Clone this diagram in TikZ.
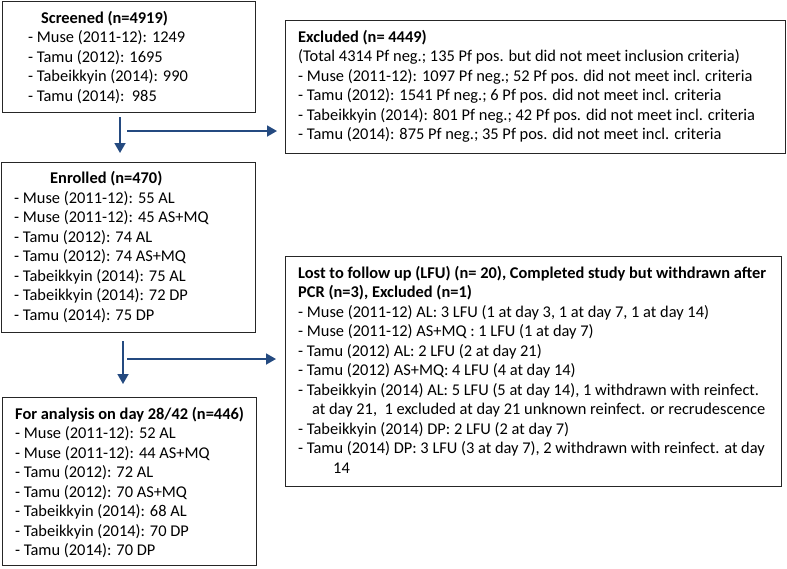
\documentclass[tikz,border=0pt]{standalone}
\usepackage{fontspec}
\setmainfont{Carlito}
\usetikzlibrary{arrows.meta}
\definecolor{arrblue}{RGB}{36,74,128}
\begin{document}
\begin{tikzpicture}[x=1pt,y=-1pt,
  box/.style={draw=black!85, line width=0.9pt, anchor=north west, inner sep=0pt, outer sep=0pt},
  txt/.style={anchor=base west, inner sep=0pt, font=\fontsize{16.4}{19.5}\selectfont},
  ttl/.style={txt, font=\fontsize{16.4}{19.5}\selectfont\bfseries},
  arr/.style={draw=arrblue, line width=1.8pt, -{Triangle[length=10pt,width=11pt]}}]
\useasboundingbox (0,0) rectangle (787,568);

% boxes
\node[box, minimum width=253pt, minimum height=111pt] (scr) at (2,1) {};
\node[box, minimum width=500pt, minimum height=133pt] (exc) at (285,20) {};
\node[box, minimum width=254pt, minimum height=170pt] (enr) at (1,162) {};
\node[box, minimum width=496pt, minimum height=230pt] (lost) at (285,256) {};
\node[box, minimum width=254pt, minimum height=168pt] (ana) at (2,397) {};

% Screened
\node[ttl] (scr-t) at (41,23) {Screened (n=4919)};
\foreach \t [count=\i from 0] in {{- Muse (2011-12): 1249},{- Tamu (2012): 1695},{- Tabeikkyin (2014): 990},{- Tamu (2014):~~985}}
  \node[txt] (scr-\i) at (28,{42.5+19.5*\i}) {\t};

% Excluded
\node[ttl] (exc-t) at (298,42) {Excluded (n= 4449)};
\foreach \t [count=\i from 0] in {{(Total 4314 Pf neg.; 135 Pf pos. but did not meet inclusion criteria)},{- Muse (2011-12): 1097 Pf neg.; 52 Pf pos. did not meet incl. criteria},{- Tamu (2012): 1541 Pf neg.; 6 Pf pos. did not meet incl. criteria},{- Tabeikkyin (2014): 801 Pf neg.; 42 Pf pos. did not meet incl. criteria},{- Tamu (2014): 875 Pf neg.; 35 Pf pos. did not meet incl. criteria}}
  \node[txt] (exc-\i) at (298,{61.5+19.5*\i}) {\t};

% Enrolled
\node[ttl] (enr-t) at (50,183.5) {Enrolled (n=470)};
\foreach \t [count=\i from 0] in {{- Muse (2011-12): 55 AL},{- Muse (2011-12): 45 AS+MQ},{- Tamu (2012): 74 AL},{- Tamu (2012): 74 AS+MQ},{- Tabeikkyin (2014): 75 AL},{- Tabeikkyin (2014): 72 DP},{- Tamu (2014): 75 DP}}
  \node[txt] (enr-\i) at (14,{203+19.5*\i}) {\t};

% Lost to follow up
\node[ttl] (lost-t1) at (298,278) {Lost to follow up (LFU) (n= 20), Completed study but withdrawn after};
\node[ttl] (lost-t2) at (298,297.5) {PCR (n=3), Excluded (n=1)};
\node[txt] (lost-0) at (298,317) {- Muse (2011-12) AL: 3 LFU (1 at day 3, 1 at day 7, 1 at day 14)};
\node[txt] (lost-1) at (298,336.5) {- Muse (2011-12) AS+MQ : 1 LFU (1 at day 7)};
\node[txt] (lost-2) at (298,356) {- Tamu (2012) AL: 2 LFU (2 at day 21)};
\node[txt] (lost-3) at (298,375.5) {- Tamu (2012) AS+MQ: 4 LFU (4 at day 14)};
\node[txt] (lost-4) at (298,395) {- Tabeikkyin (2014) AL: 5 LFU (5 at day 14), 1 withdrawn with reinfect.};
\node[txt] (lost-4b) at (312,414.5) {at day 21,~~1 excluded at day 21 unknown reinfect. or recrudescence};
\node[txt] (lost-5) at (298,434) {- Tabeikkyin (2014) DP: 2 LFU (2 at day 7)};
\node[txt] (lost-6) at (298,453.5) {- Tamu (2014) DP: 3 LFU (3 at day 7), 2 withdrawn with reinfect. at day};
\node[txt] (lost-6b) at (333,473) {14};

% For analysis
\node[ttl] (ana-t) at (15,419) {For analysis on day 28/42 (n=446)};
\foreach \t [count=\i from 0] in {{- Muse (2011-12): 52 AL},{- Muse (2011-12): 44 AS+MQ},{- Tamu (2012): 72 AL},{- Tamu (2012): 70 AS+MQ},{- Tabeikkyin (2014): 68 AL},{- Tabeikkyin (2014): 70 DP},{- Tamu (2014): 70 DP}}
  \node[txt] (ana-\i) at (15,{438.5+19.5*\i}) {\t};

% arrows
\coordinate (v1) at (120,117);
\coordinate (h1) at (127,131);
\draw[arr] (v1) -- ([yshift=9pt]v1 |- enr.north);
\draw[arr] (h1) -- ([xshift=-8pt]exc.west |- h1);
\coordinate (v2) at (123,341);
\coordinate (h2) at (127,359);
\draw[arr] (v2) -- ([yshift=13pt]v2 |- ana.north);
\draw[arr] (h2) -- ([xshift=-9pt]lost.west |- h2);
\end{tikzpicture}
\end{document}
